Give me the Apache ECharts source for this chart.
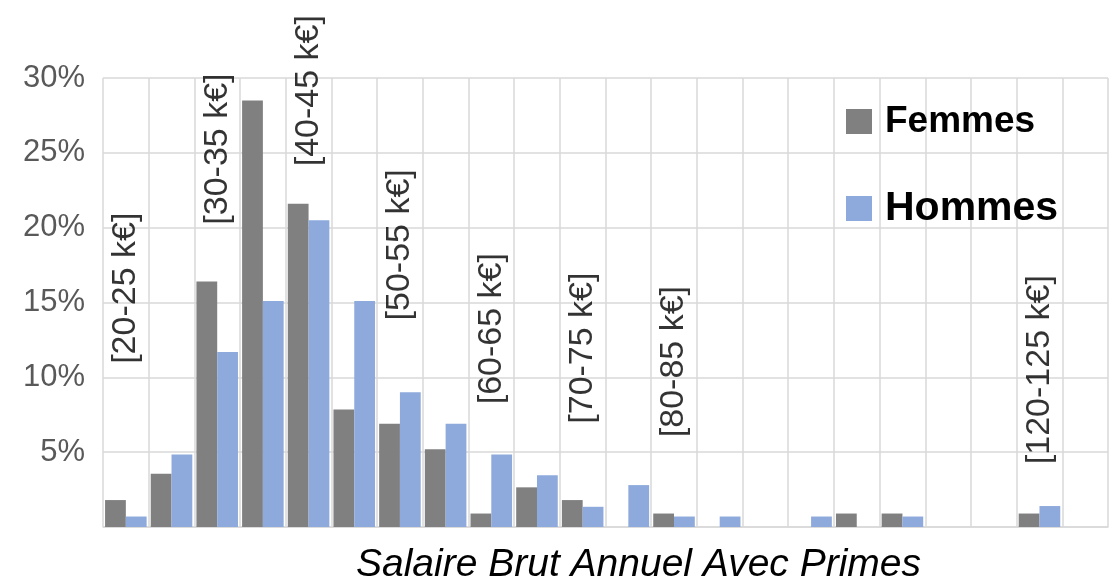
<!DOCTYPE html>
<html>
<head>
<meta charset="utf-8">
<script src="https://cdn.jsdelivr.net/npm/echarts@6/dist/echarts.min.js"></script>
<style>
html, body { margin: 0; padding: 0; background: #fff; }
#salaires { width: 1115px; height: 584px; }
</style>
</head>
<body>
<div id="salaires"></div>
<script>
// tranches de salaire (k€), de 20 à 130
var tranches = ['[20-25 k€]', '[25-30 k€]', '[30-35 k€]', '[35-40 k€]', '[40-45 k€]', '[45-50 k€]',
	'[50-55 k€]', '[55-60 k€]', '[60-65 k€]', '[65-70 k€]', '[70-75 k€]', '[75-80 k€]',
	'[80-85 k€]', '[85-90 k€]', '[90-95 k€]', '[95-100 k€]', '[100-105 k€]', '[105-110 k€]',
	'[110-115 k€]', '[115-120 k€]', '[120-125 k€]', '[125-130 k€]'];
// pourcentages
var femmes = [1.8, 3.55, 16.4, 28.5, 21.6, 7.85, 6.9, 5.2, 0.9, 2.65, 1.8, 0, 0.9, 0, 0, 0, 0.9, 0.9, 0, 0, 0.9, 0];
var hommes = [0.7, 4.85, 11.7, 15.1, 20.5, 15.1, 9.0, 6.9, 4.85, 3.45, 1.35, 2.8, 0.7, 0.7, 0, 0.7, 0, 0.7, 0, 0, 1.4, 0];
// étiquettes verticales : tranche et hauteur (en %) du bas du texte
var etiquettes = ['[20-25 k€]', '[30-35 k€]', '[40-45 k€]', '[50-55 k€]', '[60-65 k€]', '[70-75 k€]', '[80-85 k€]', '[120-125 k€]'];
var hauteurs = [10.9, 20.2, 24.1, 13.8, 8.2, 6.9, 6.0, 4.2];
var ticksY = [0, 5, 10, 15, 20, 25, 30];

var chart = echarts.init(document.getElementById('salaires'));
var police = "'Liberation Sans', Arial, sans-serif";

var option = {
	animation : false,
	textStyle : { fontFamily : police },
	grid : { left : 103, right : 7, top : 78, bottom : 57, outerBoundsMode : 'none', containLabel : false },
	legend : {
		orient : 'vertical',
		left : 841,
		top : 98,
		itemWidth : 26,
		itemHeight : 25,
		itemGap : 48,
		icon : 'rect',
		data : [
			{ name : 'Femmes', textStyle : { fontSize : 37 } },
			{ name : 'Hommes', textStyle : { fontSize : 41 } }
		],
		textStyle : { color : '#000', fontWeight : 'bold', fontFamily : police, padding : [0, 0, 0, 8] }
	},
	xAxis : {
		type : 'category',
		data : tranches,
		boundaryGap : true,
		name : 'Salaire Brut Annuel Avec Primes',
		nameLocation : 'middle',
		nameGap : 19,
		nameTextStyle : { fontSize : 39, fontStyle : 'italic', color : '#000', padding : [0, 0, 0, 66] },
		axisLine : { lineStyle : { color : '#d9d9d9', width : 1.5 } },
		axisTick : { show : false, interval : 0 },
		axisLabel : { show : false, interval : 0 },
		splitLine : { show : true, interval : 0, lineStyle : { color : '#d9d9d9', width : 1.5 } }
	},
	yAxis : {
		type : 'value',
		min : ticksY[0],
		max : ticksY[ticksY.length - 1],
		interval : 5,
		axisLine : { show : false },
		axisTick : { show : false },
		axisLabel : {
			fontSize : 31,
			color : '#595959',
			margin : 18,
			formatter : function(v) { return v === 0 ? '' : v + '%'; }
		},
		splitLine : { lineStyle : { color : '#d9d9d9', width : 1.5 } }
	},
	series : [
		{
			name : 'Femmes',
			type : 'bar',
			data : femmes,
			barGap : '0%',
			barCategoryGap : '9%',
			itemStyle : { color : '#808080' }
		},
		{
			name : 'Hommes',
			type : 'bar',
			data : hommes,
			itemStyle : { color : '#8eaadc' }
		},
		{
			name : 'etiquettes',
			type : 'scatter',
			silent : true,
			symbolSize : 1,
			itemStyle : { color : 'rgba(0,0,0,0)' },
			z : 5,
			data : etiquettes.map(function(t, i) { return [t, hauteurs[i]]; }),
			label : {
				show : true,
				position : 'inside',
				rotate : 90,
				align : 'left',
				verticalAlign : 'middle',
				fontSize : 34,
				color : '#000',
				fontFamily : police,
				formatter : function(p) { return p.value[0]; }
			}
		}
	]
};

chart.setOption(option);
</script>
</body>
</html>
